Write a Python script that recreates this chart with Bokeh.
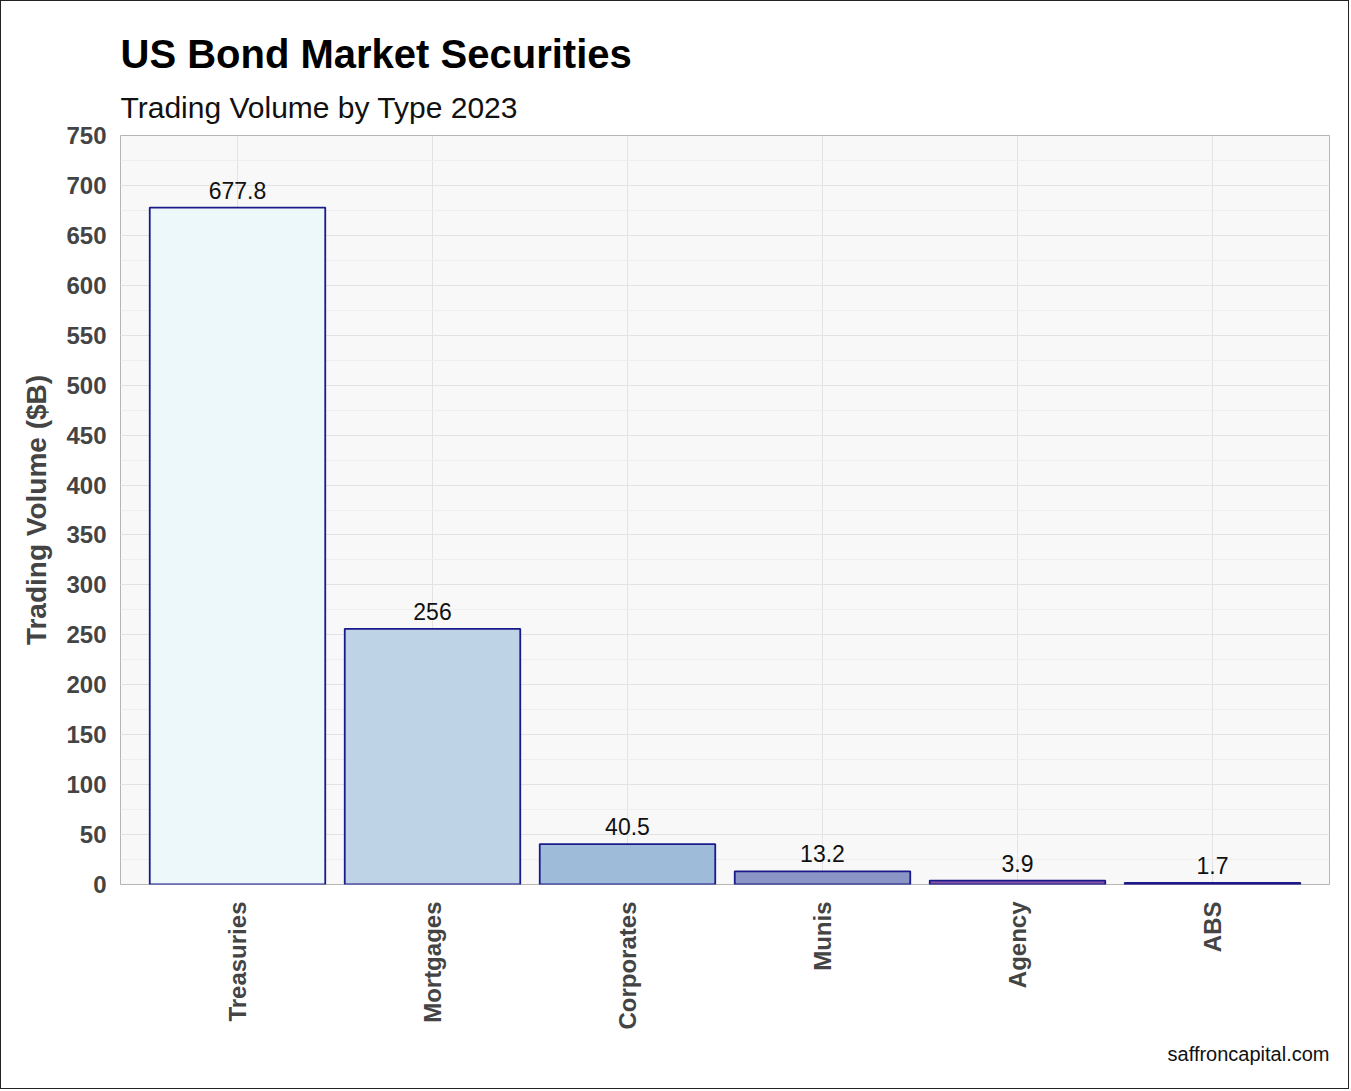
import math
from bokeh.plotting import figure
from bokeh.models import (ColumnDataSource, FactorRange, Range1d, Title,
                          SingleIntervalTicker)
from bokeh.embed import file_html
from bokeh.resources import INLINE

# ---- data ----
categories = ["Treasuries", "Mortgages", "Corporates", "Munis", "Agency", "ABS"]
volumes = [677.8, 256, 40.5, 13.2, 3.9, 1.7]
value_labels = ["677.8", "256", "40.5", "13.2", "3.9", "1.7"]
bar_colors = ["#EDF8FB", "#BFD3E6", "#9EBCDA", "#8C96C6", "#8856A7", "#810F7C"]

title_text = "US Bond Market Securities"
subtitle_text = "Trading Volume by Type 2023"
source_text = "saffroncapital.com"
y_label = "Trading Volume ($B)"

FONT = "Liberation Sans"
W, H = 1349, 1089
ML, MR, MT, MB = 119, 21, 134, 206

src = ColumnDataSource(dict(cat=categories, vol=volumes, lab=value_labels, col=bar_colors))

p = figure(width=W, height=H, output_backend="svg", toolbar_location=None,
           x_range=FactorRange(*categories, range_padding=0.1, range_padding_units="absolute"),
           y_range=Range1d(0, 750),
           min_border_left=ML, min_border_right=MR, min_border_top=MT, min_border_bottom=MB,
           title=None)
p.styles = {"border": "1px solid #222222"}

p.background_fill_color = "#F8F8F8"
p.border_fill_color = "white"
p.outline_line_color = "#B5B5B5"
p.outline_line_width = 1

p.vbar(x="cat", top="vol", width=0.9, source=src, fill_color="col",
       line_color="#1A1A8A", line_width=1.8)
p.text(x="cat", y="vol", text="lab", source=src, text_align="center",
       text_baseline="bottom", y_offset=-9, text_font_size="23px",
       text_color="#111111", text_font={"value": FONT})

# axes
yax = p.yaxis[0]
yax.ticker = SingleIntervalTicker(interval=50, num_minor_ticks=2)
yax.axis_label = y_label
yax.axis_label_text_font = FONT
yax.axis_label_text_font_size = "28px"
yax.axis_label_text_font_style = "bold"
yax.axis_label_text_color = "#444444"
yax.axis_label_standoff = 11
yax.major_label_text_font = FONT
yax.major_label_text_font_size = "24px"
yax.major_label_text_font_style = "bold"
yax.major_label_text_color = "#444444"
yax.major_label_standoff = 8
yax.axis_line_color = None
yax.major_tick_line_color = None
yax.minor_tick_line_color = None

xax = p.xaxis[0]
xax.major_label_orientation = math.pi / 2
xax.major_label_text_font = FONT
xax.major_label_text_font_size = "24px"
xax.major_label_text_font_style = "bold"
xax.major_label_text_color = "#444444"
xax.major_label_standoff = 11
xax.axis_line_color = None
xax.major_tick_line_color = None
xax.minor_tick_line_color = None

p.xgrid.grid_line_color = "#E3E3E3"
p.ygrid.grid_line_color = "#E3E3E3"
p.ygrid.minor_grid_line_color = "#EEEEEE"

# titles and caption
p.add_layout(Title(text=subtitle_text, align="left", text_font=FONT,
                   text_font_size="30px", text_font_style="normal",
                   text_color="#111111", standoff=24), "above")
p.add_layout(Title(text=title_text, align="left", text_font=FONT,
                   text_font_size="40px", text_font_style="bold",
                   text_color="black", standoff=2), "above")
p.add_layout(Title(text=source_text, align="right", text_font=FONT,
                   text_font_size="20px", text_font_style="normal",
                   text_color="#111111", standoff=16), "below")

open("out.html", "w").write(file_html(p, INLINE))
